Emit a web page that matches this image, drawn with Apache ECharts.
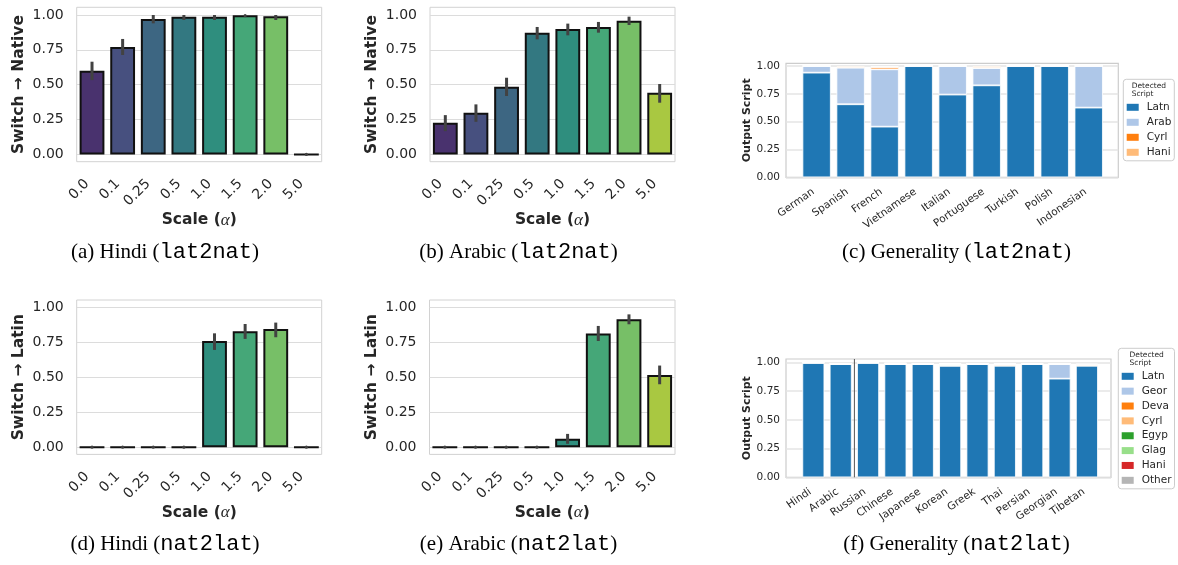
<!DOCTYPE html>
<html><head><meta charset="utf-8">
<script src="https://cdn.jsdelivr.net/npm/echarts@6/dist/echarts.min.js"></script>
<style>html,body{margin:0;padding:0;background:#fff}#c{width:1178px;height:565px}</style>
</head><body><div id="c"></div>
<script>
// ---------------- data ----------------
const scaleLabels = ['0.0', '0.1', '0.25', '0.5', '1.0', '1.5', '2.0', '5.0'];
const yTickValues = [0, 0.25, 0.5, 0.75, 1.0];

const hindiLat2nat      = [0.600, 0.770, 0.971, 0.988, 0.988, 0.998, 0.990, 0.000];
const hindiLat2natLow   = [0.533, 0.713, 0.940, 0.964, 0.964, 0.990, 0.964, 0.000];
const hindiLat2natHigh  = [0.665, 0.828, 1.000, 1.000, 1.000, 1.000, 1.000, 0.000];

const arabicLat2nat     = [0.227, 0.299, 0.486, 0.873, 0.900, 0.914, 0.959, 0.443];
const arabicLat2natLow  = [0.167, 0.234, 0.419, 0.825, 0.854, 0.873, 0.928, 0.371];
const arabicLat2natHigh = [0.282, 0.359, 0.550, 0.914, 0.938, 0.950, 0.988, 0.505];

const hindiNat2lat      = [0, 0, 0, 0, 0.761, 0.831, 0.847, 0];
const hindiNat2latLow   = [0, 0, 0, 0, 0.697, 0.776, 0.788, 0];
const hindiNat2latHigh  = [0, 0, 0, 0, 0.816, 0.883, 0.893, 0];

const arabicNat2lat     = [0, 0, 0, 0, 0.060, 0.814, 0.917, 0.518];
const arabicNat2latLow  = [0, 0, 0, 0, 0.024, 0.761, 0.881, 0.451];
const arabicNat2latHigh = [0, 0, 0, 0, 0.095, 0.869, 0.952, 0.585];

const genLat2natLangs = ['German', 'Spanish', 'French', 'Vietnamese', 'Italian', 'Portuguese', 'Turkish', 'Polish', 'Indonesian'];
const genLat2natLatn  = [0.940, 0.656, 0.455, 1.000, 0.743, 0.826, 1.000, 1.000, 0.626];
const genLat2natArab  = [0.060, 0.329, 0.515, 0.000, 0.257, 0.156, 0.000, 0.000, 0.374];
const genLat2natCyrl  = [0, 0, 0.020, 0, 0, 0, 0, 0, 0];
const genLat2natHani  = [0, 0.012, 0.006, 0, 0, 0.016, 0, 0, 0];

const genNat2latLangs = ['Hindi', 'Arabic', 'Russian', 'Chinese', 'Japanese', 'Korean', 'Greek', 'Thai', 'Persian', 'Georgian', 'Tibetan'];
const genNat2latLatn  = [0.997, 0.986, 0.997, 0.986, 0.986, 0.971, 0.986, 0.971, 0.986, 0.858, 0.971];
const genNat2latGeor  = [0, 0, 0, 0, 0, 0, 0, 0, 0, 0.128, 0];
const genNat2latDeva  = [0, 0, 0, 0, 0, 0, 0, 0, 0, 0, 0];
const genNat2latCyrl  = [0, 0, 0, 0, 0, 0, 0, 0.014, 0, 0, 0.010];
const genNat2latEgyp  = [0, 0, 0, 0, 0, 0.008, 0, 0, 0, 0, 0];
const genNat2latGlag  = [0, 0, 0, 0, 0, 0.008, 0, 0, 0, 0, 0];
const genNat2latHani  = [0, 0, 0, 0.008, 0, 0, 0, 0, 0, 0, 0];
const genNat2latOther = [0, 0, 0, 0, 0, 0, 0, 0, 0.008, 0, 0.010];
const nat2latDividerAt = 1.5;

// ---------------- styles ----------------
const FONT = 'DejaVu Sans';
const TXT = '#262626';
const ERR = '#424242';
const viridisDesat = ['#49326e', '#47507f', '#3d6682', '#337881', '#2f8e7e', '#45a778', '#77bf67', '#a9c841'];
const Y_MIN = -0.052, Y_MAX = 1.055;

const grids = [], xAxes = [], yAxes = [], series = [], legends = [], graphics = [];

function errRender(params, api) {
  const a = api.coord([api.value(0), api.value(1)]);
  const b = api.coord([api.value(0), api.value(2)]);
  if (Math.abs(a[1] - b[1]) < 1.6) {
    return {type: 'circle', shape: {cx: a[0], cy: (a[1] + b[1]) / 2, r: 1.6}, style: {fill: ERR}};
  }
  return {type: 'line', shape: {x1: a[0], y1: a[1], x2: b[0], y2: b[1]}, style: {stroke: ERR, lineWidth: 3}};
}

function switchPanel(rect, yName, vals, lo, hi) {
  const k = grids.length;
  grids.push({left: rect[0], top: rect[1], width: rect[2], height: rect[3], show: true,
    borderColor: '#d2d2d2', borderWidth: 1, backgroundColor: '#fff'});
  xAxes.push({type: 'category', gridIndex: k, data: scaleLabels, boundaryGap: true,
    axisLine: {show: false}, axisTick: {show: false}, splitLine: {show: false},
    axisLabel: {rotate: 45, interval: 0, margin: 25, verticalAlign: 'bottom', fontFamily: FONT, fontSize: 14, color: TXT},
    name: '{b|Scale (}{a|α}{b|)}', nameLocation: 'middle', nameGap: 48,
    nameTextStyle: {rich: {
      b: {fontFamily: FONT, fontWeight: 'bold', fontSize: 15.5, color: TXT},
      a: {fontFamily: 'Liberation Serif', fontStyle: 'italic', fontSize: 17, color: TXT}}}});
  yAxes.push({type: 'value', gridIndex: k, min: Y_MIN, max: Y_MAX,
    axisLine: {show: false}, axisTick: {show: false, customValues: yTickValues},
    axisLabel: {customValues: yTickValues, formatter: v => v.toFixed(2), margin: 13, fontFamily: FONT, fontSize: 14, color: TXT},
    splitLine: {show: true, lineStyle: {color: '#dcdcdc', width: 1}},
    name: yName, nameLocation: 'middle', nameRotate: 90, nameGap: 50,
    nameTextStyle: {fontFamily: FONT, fontWeight: 'bold', fontSize: 15.5, color: TXT}});
  series.push({type: 'bar', xAxisIndex: k, yAxisIndex: k, data: vals, barWidth: '81%', z: 2,
    itemStyle: {color: p => viridisDesat[p.dataIndex], borderColor: '#111', borderWidth: 2}});
  series.push({type: 'custom', xAxisIndex: k, yAxisIndex: k, z: 5, renderItem: errRender,
    encode: {x: 0, y: [1, 2]}, data: vals.map((_, i) => [i, lo[i], hi[i]])});
}

function genPanel(tag, rect, langs, scripts, xr, yMax, barW, leg, title, divider) {
  // frame grid: border, y ticks, gridlines, y name (x range as in the reference)
  const kF = grids.length;
  grids.push({left: rect[0], top: rect[1], width: rect[2], height: rect[3], show: true,
    borderColor: '#cccccc', borderWidth: 1.2, backgroundColor: '#fff'});
  xAxes.push({type: 'value', gridIndex: kF, min: xr[0], max: xr[1], show: false});
  yAxes.push({type: 'value', gridIndex: kF, min: 0, max: yMax,
    axisLine: {show: false}, axisTick: {show: false, customValues: yTickValues},
    axisLabel: {customValues: yTickValues, formatter: v => v.toFixed(2), margin: 6, fontFamily: FONT, fontSize: 10.5, color: TXT},
    splitLine: {show: true, lineStyle: {color: '#e4e4e4', width: 1.5}},
    name: 'Output Script', nameLocation: 'middle', nameRotate: 90, nameGap: 32,
    nameTextStyle: {fontFamily: FONT, fontWeight: 'bold', fontSize: 11, color: TXT}});
  if (divider !== undefined) {
    series.push({type: 'custom', xAxisIndex: kF, yAxisIndex: kF, z: 1, silent: true,
      encode: {x: 0, y: [1, 2]}, data: [[divider, 0, yMax]],
      renderItem: (p, api) => {
        const a = api.coord([api.value(0), api.value(1)]);
        const b = api.coord([api.value(0), api.value(2)]);
        return {type: 'line', shape: {x1: a[0], y1: a[1], x2: b[0], y2: b[1]}, style: {stroke: '#555555', lineWidth: 1}};
      }});
  }
  // data grid: category bands aligned with the frame's x range
  const kD = grids.length;
  const pitch = rect[2] / (xr[1] - xr[0]);
  grids.push({left: rect[0] + (-0.5 - xr[0]) * pitch, top: rect[1], width: langs.length * pitch, height: rect[3], show: false});
  xAxes.push({type: 'category', gridIndex: kD, data: langs, boundaryGap: true,
    axisLine: {show: false}, axisTick: {show: false}, splitLine: {show: false},
    axisLabel: {interval: 0, rotate: 35, margin: 18, verticalAlign: 'bottom', fontFamily: FONT, fontSize: 10.5, color: TXT}});
  yAxes.push({type: 'value', gridIndex: kD, min: 0, max: yMax, show: false, splitLine: {show: false}});
  scripts.forEach(s => {
    series.push({type: 'bar', name: tag + '|' + s.name, xAxisIndex: kD, yAxisIndex: kD, stack: tag, barWidth: barW, z: 2,
      data: s.values,
      itemStyle: {color: s.color, borderColor: '#fff', borderWidth: 0.8}});
  });
  legends.push({data: scripts.map(s => tag + '|' + s.name), left: leg[0], top: leg[1], orient: 'vertical',
    icon: 'rect', itemWidth: 12, itemHeight: 7, itemGap: leg[2], padding: [21.5, 3, 2, 3.4],
    borderColor: '#cccccc', borderWidth: 1, borderRadius: 3, backgroundColor: '#fff', selectedMode: false,
    itemStyle: {borderWidth: 0},
    formatter: n => n.split('|')[1],
    textStyle: {fontFamily: FONT, fontSize: 10.5, color: TXT, lineHeight: 13, padding: [0, 0, 0, 3]}});
  graphics.push({type: 'text', x: title[0], y: title[1], z: 100, silent: true,
    style: {text: 'Detected\nScript', fontFamily: FONT, fontSize: 7.5, lineHeight: 8, fill: TXT, align: 'left', verticalAlign: 'top'}});
}

function caption(cx, cy, pre, mono) {
  graphics.push({type: 'text', x: cx, y: cy, silent: true,
    style: {text: '{s|' + pre + '(}{m|' + mono + '}{s|)}', align: 'center', verticalAlign: 'middle',
      rich: {s: {fontFamily: 'Liberation Serif', fontSize: 21, fill: '#000'},
             m: {fontFamily: 'Liberation Mono', fontSize: 22, fill: '#000'}}}});
}

switchPanel([76.7, 7.3, 245, 154.4], 'Switch → Native', hindiLat2nat, hindiLat2natLow, hindiLat2natHigh);
switchPanel([430, 7.3, 245, 154.4], 'Switch → Native', arabicLat2nat, arabicLat2natLow, arabicLat2natHigh);
switchPanel([76.7, 300, 245, 154.4], 'Switch → Latin', hindiNat2lat, hindiNat2latLow, hindiNat2latHigh);
switchPanel([429.5, 300, 245.5, 154.4], 'Switch → Latin', arabicNat2lat, arabicNat2latLow, arabicNat2latHigh);

genPanel('c', [786, 63.3, 332.3, 114], genLat2natLangs, [
  {name: 'Latn', values: genLat2natLatn, color: '#1f77b4'},
  {name: 'Arab', values: genLat2natArab, color: '#aec7e8'},
  {name: 'Cyrl', values: genLat2natCyrl, color: '#ff7f0e'},
  {name: 'Hani', values: genLat2natHani, color: '#ffbb78'}
], [-0.9, 8.87], 1.024, 28.3, [1123.3, 79.3, 2], [1131.7, 82.5]);

genPanel('f', [786, 359, 325, 118.3], genNat2latLangs, [
  {name: 'Latn', values: genNat2latLatn, color: '#1f77b4'},
  {name: 'Geor', values: genNat2latGeor, color: '#aec7e8'},
  {name: 'Deva', values: genNat2latDeva, color: '#ff7f0e'},
  {name: 'Cyrl', values: genNat2latCyrl, color: '#ffbb78'},
  {name: 'Egyp', values: genNat2latEgyp, color: '#2ca02c'},
  {name: 'Glag', values: genNat2latGlag, color: '#98df8a'},
  {name: 'Hani', values: genNat2latHani, color: '#d62728'},
  {name: 'Other', values: genNat2latOther, color: '#b5b5b5'}
], [-1, 10.88], 1.029, 22, [1118.3, 348.3, 1.86], [1129.5, 350.8], nat2latDividerAt);

caption(165, 252, '(a) Hindi ', 'lat2nat');
caption(518.5, 252, '(b) Arabic ', 'lat2nat');
caption(956.5, 252, '(c) Generality ', 'lat2nat');
caption(165, 544, '(d) Hindi ', 'nat2lat');
caption(518.5, 544, '(e) Arabic ', 'nat2lat');
caption(956.5, 544, '(f) Generality ', 'nat2lat');

const chart = echarts.init(document.getElementById('c'), null, {renderer: 'canvas', width: 1178, height: 565});
chart.setOption({
  animation: false,
  backgroundColor: '#fff',
  tooltip: {show: false},
  grid: grids, xAxis: xAxes, yAxis: yAxes, series: series, legend: legends, graphic: graphics
});
</script></body></html>
